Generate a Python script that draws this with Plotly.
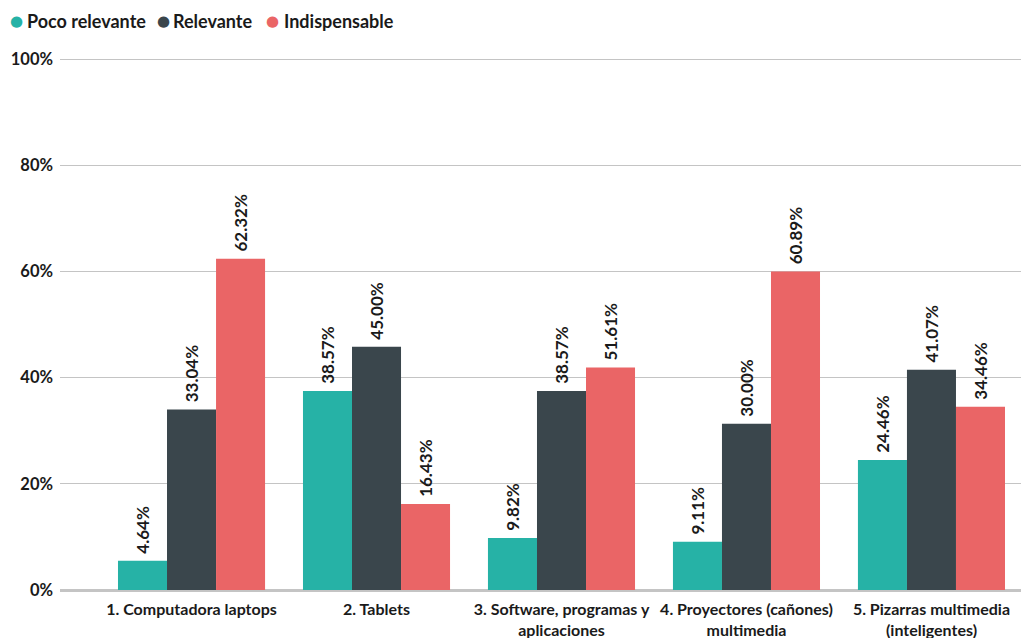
import plotly.graph_objects as go

categories = [
    "1. Computadora laptops",
    "2. Tablets",
    "3. Software, programas y<br>aplicaciones",
    "4. Proyectores (cañones)<br>multimedia",
    "5. Pizarras multimedia<br>(inteligentes)",
]
series_names = ["Poco relevante", "Relevante", "Indispensable"]
# bar heights as drawn in the picture (%)
poco_vals = [5.5, 37.5, 9.8, 9.1, 24.5]
rel_vals = [34.0, 45.8, 37.5, 31.3, 41.5]
ind_vals = [62.4, 16.2, 41.9, 60.0, 34.5]
# labels printed on the bars
poco_labels = ["4.64%", "38.57%", "9.82%", "9.11%", "24.46%"]
rel_labels = ["33.04%", "45.00%", "38.57%", "30.00%", "41.07%"]
ind_labels = ["62.32%", "16.43%", "51.61%", "60.89%", "34.46%"]
colors = ["#26B2A6", "#3A464C", "#EA6566"]
y_ticks = [0, 20, 40, 60, 80, 100]
y_tick_text = ["0%", "20%", "40%", "60%", "80%", "100%"]

FONT = "Lato"
TXT = "#1a1a1a"
fig = go.Figure()
for name, vals, labels, col in zip(series_names, [poco_vals, rel_vals, ind_vals],
                                   [poco_labels, rel_labels, ind_labels], colors):
    fig.add_trace(go.Bar(
        x=categories, y=vals, name=name, marker=dict(color=col, line=dict(width=0)),
        text=[" " + t for t in labels], textposition="outside", textangle=-90,
        textfont=dict(family=FONT, size=17, color=TXT, weight="bold"),
        cliponaxis=False, constraintext="none", showlegend=False,
    ))

# legend drawn as text with coloured bullets (pixel positions converted to paper)
bullet_x = [16, 163, 272]
label_x = [27, 173, 284]
for name, col, bx, lx in zip(series_names, colors, bullet_x, label_x):
    fig.add_annotation(
        xref="paper", yref="paper", x=(bx - 60) / 961, y=(590 - 21) / 532,
        xanchor="center", yanchor="middle", showarrow=False,
        text="●", font=dict(family="DejaVu Sans", size=15, color=col),
    )
    fig.add_annotation(
        xref="paper", yref="paper", x=(lx - 60) / 961, y=(590 - 21) / 532,
        xanchor="left", yanchor="middle", showarrow=False, xshift=-2,
        text=name, font=dict(family=FONT, size=18, color=TXT, weight="bold"),
    )

fig.update_layout(
    width=1021, height=638,
    margin=dict(l=60, r=0, t=58, b=48),
    barmode="group", bargap=0.205, bargroupgap=0,
    plot_bgcolor="white", paper_bgcolor="white",
    font=dict(family=FONT, color=TXT),
    xaxis=dict(
        type="category", range=[-0.711, 4.484], showgrid=False, showline=False,
        tickfont=dict(family=FONT, size=16, color=TXT, weight="bold"),
        ticks="", ticklabelstandoff=8,
    ),
    yaxis=dict(
        range=[0, 100.2], tickvals=y_ticks, ticktext=y_tick_text,
        showgrid=True, gridcolor="#c4c4c4", gridwidth=1.3,
        zeroline=True, zerolinecolor="#c4c4c4", zerolinewidth=2.5,
        showline=False, ticks="", ticklabelstandoff=6,
        tickfont=dict(family=FONT, size=16.5, color=TXT, weight="bold"),
    ),
)

fig.write_html("out.html", config={"displayModeBar": False},
               post_script="document.body.style.margin='0';")
